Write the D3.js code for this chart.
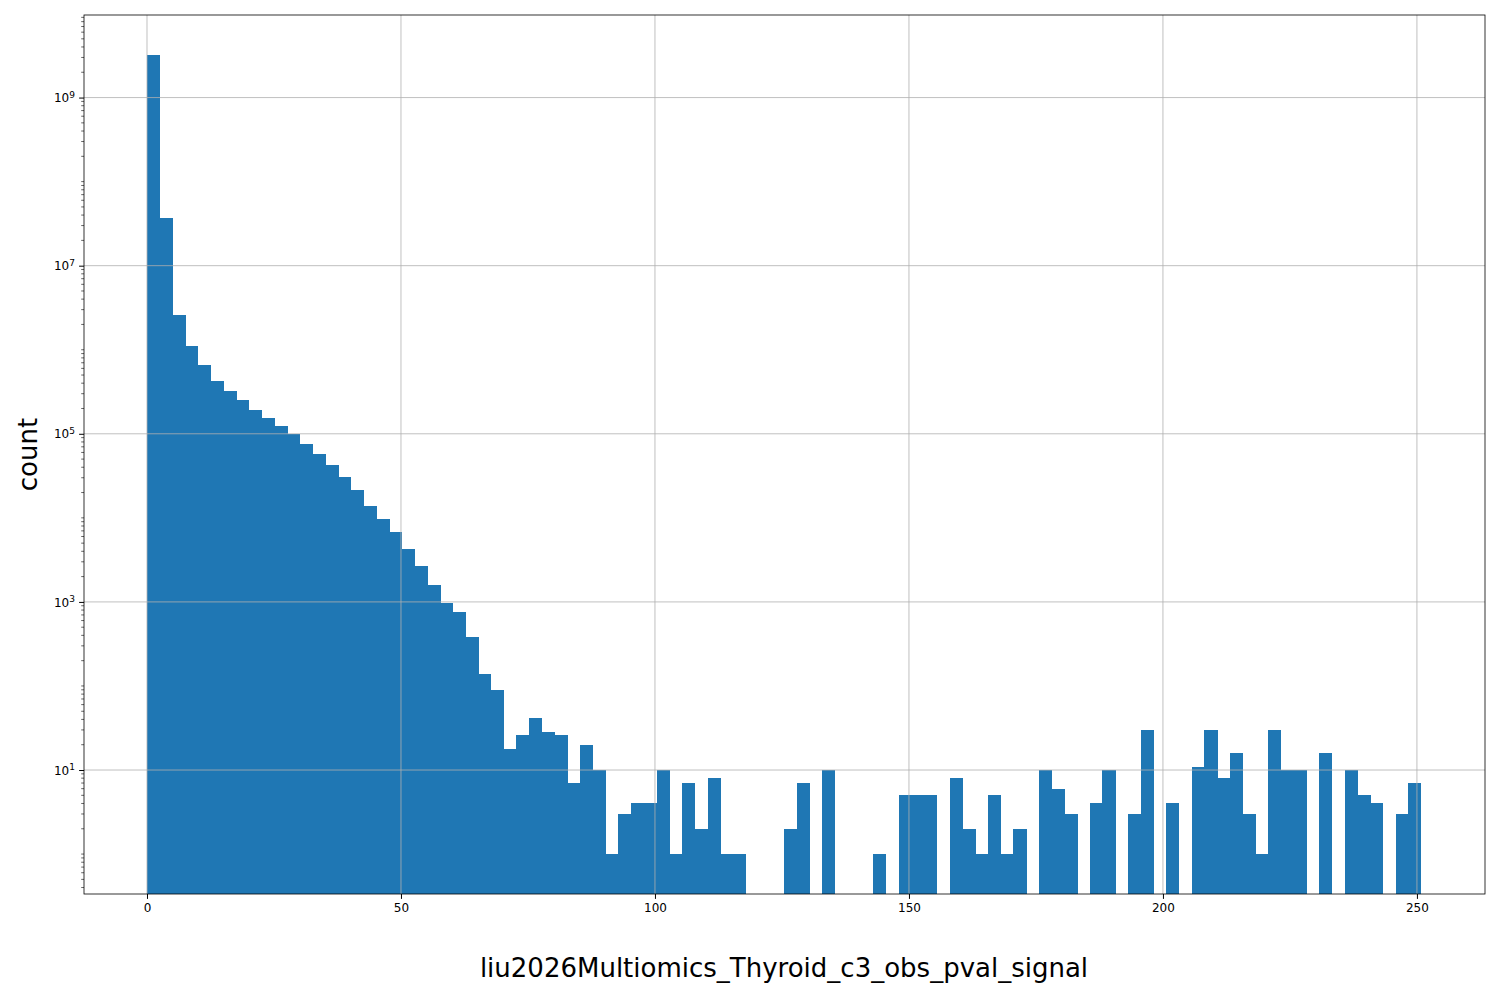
<!DOCTYPE html>
<html><head><meta charset="utf-8">
<script src="https://cdn.jsdelivr.net/npm/d3@7"></script>
<style>body{margin:0;background:#fff}text{font-family:"DejaVu Sans",sans-serif}</style>
</head><body>
<script>
const binWidth = 2.508;
const counts = [3.2e9,3.7e7,2.6e6,1.1e6,6.5e5,4.3e5,3.2e5,2.5e5,1.9e5,1.55e5,
1.25e5,1e5,7.6e4,5.8e4,4.3e4,3.1e4,2.15e4,1.4e4,9.7e3,6.8e3,
4.3e3,2.7e3,1.6e3,970,760,380,140,90,18,26,
42,28,26,7,20,10,1,3,4,4,
10,1,7,2,8,1,1,0,0,0,
2,7,0,10,0,0,0,1,0,5,
5,5,0,8,2,1,5,1,2,0,
10,6,3,0,4,10,0,3,30,0,
4,0,11,30,8,16,3,1,30,10,
10,0,16,0,10,5,4,0,3,7];
const xTicks = [0,50,100,150,200,250];
const yTicks = [10,1e3,1e5,1e7,1e9];
const xLabel = "liu2026Multiomics_Thyroid_c3_obs_pval_signal";

const W=1500,H=1000,m={l:84,r:15,t:15,b:106};
const svg=d3.select("body").append("svg").attr("width",W).attr("height",H);
const x=d3.scaleLinear().domain([-12.4,263.4]).range([m.l,W-m.r]);
const y=d3.scaleLog().domain([0.335,9.6e9]).range([H-m.b,m.t]);

svg.append("g").attr("shape-rendering","crispEdges").selectAll("rect")
 .data(counts.map((c,i)=>({c,i})).filter(d=>d.c>0)).join("rect")
 .attr("x",d=>x(d.i*binWidth)).attr("width",d=>x((d.i+1)*binWidth)-x(d.i*binWidth)+0.5)
 .attr("y",d=>y(d.c)).attr("height",d=>H-m.b-y(d.c)).attr("fill","#1f77b4");

// grid drawn over bars as in reference
svg.append("g").selectAll("line").data(xTicks).join("line").attr("x1",d=>x(d)).attr("x2",d=>x(d))
 .attr("y1",m.t).attr("y2",H-m.b).attr("stroke","#b0b0b0").attr("stroke-width",0.8);
svg.append("g").selectAll("line").data(yTicks).join("line").attr("y1",d=>y(d)).attr("y2",d=>y(d))
 .attr("x1",m.l).attr("x2",W-m.r).attr("stroke","#b0b0b0").attr("stroke-width",0.8);

const xa=svg.append("g").attr("transform",`translate(0,${H-m.b})`)
 .call(d3.axisBottom(x).tickValues(xTicks).tickSize(4.9).tickPadding(5).tickFormat(d3.format("d")));
xa.select(".domain").remove();
xa.selectAll("text").attr("font-size",12).attr("font-family","DejaVu Sans");
const ya=svg.append("g").attr("transform",`translate(${m.l},0)`)
 .call(d3.axisLeft(y).tickValues(yTicks).tickSize(4.9).tickPadding(5).tickFormat(""));
ya.select(".domain").remove();
ya.selectAll(".tick").append("text").attr("x",-9).attr("dy","0.35em").attr("text-anchor","end")
 .attr("fill","#000").attr("font-size",12).attr("font-family","DejaVu Sans")
 .each(function(d){const t=d3.select(this);t.append("tspan").text("10");
   t.append("tspan").attr("dy","-0.5em").attr("font-size",9).text(Math.round(Math.log10(d)));});
const minor=[];for(let e=-1;e<10;e++)for(let k=2;k<10;k++){const v=k*Math.pow(10,e);if(v>=0.335&&v<=9.6e9)minor.push(v);}
for(let e=0;e<10;e++){const v=Math.pow(10,e);if(!yTicks.includes(v))minor.push(v);}
svg.append("g").selectAll("line").data(minor).join("line").attr("x1",m.l-2.8).attr("x2",m.l)
 .attr("y1",d=>y(d)).attr("y2",d=>y(d)).attr("stroke","#000").attr("stroke-width",0.6);

svg.append("rect").attr("x",m.l).attr("y",m.t).attr("width",W-m.l-m.r).attr("height",H-m.t-m.b)
 .attr("fill","none").attr("stroke","#000").attr("stroke-width",0.8);
svg.append("text").attr("x",784).attr("y",977).attr("text-anchor","middle")
 .attr("font-size",26).text(xLabel);
svg.append("text").attr("transform",`translate(37,${(m.t+H-m.b)/2}) rotate(-90)`).attr("text-anchor","middle")
 .attr("font-size",26).text("count");
</script>
</body></html>
